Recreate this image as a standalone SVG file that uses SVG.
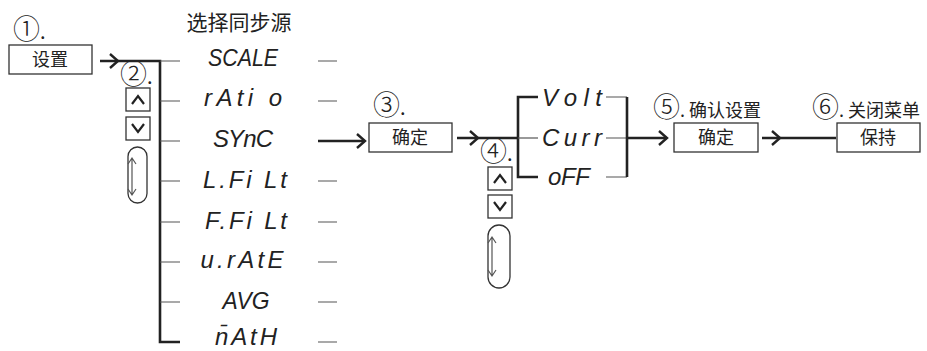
<svg xmlns="http://www.w3.org/2000/svg" width="927" height="351" viewBox="0 0 927 351">
<style>
.bg{fill:#fff}
.box{fill:#fff;stroke:#333;stroke-width:1.3}
.cn{font-family:"Noto Sans CJK SC","Noto Sans",sans-serif;fill:#222}
.num{font-family:"Noto Sans CJK SC","Noto Sans",sans-serif;font-weight:300;fill:#222}
.seg{font-family:"Liberation Sans",sans-serif;font-style:italic;font-size:24px;fill:#222;text-anchor:middle}
.thick{stroke:#222;stroke-width:2.6;fill:none}
.thin{stroke:#555;stroke-width:1.2;fill:none}
.head{stroke:#222;stroke-width:2.4;fill:none;stroke-linejoin:miter}
.key{stroke:#222;stroke-width:2.2;fill:none}
</style>
<rect class="bg" x="0" y="0" width="927" height="351"/>

<text class="cn" x="239" y="30" font-size="21" text-anchor="middle">选择同步源</text>

<g id="step1">
<text class="cn" x="13" y="39" font-size="20"><tspan class="num" font-size="27">①</tspan>.</text>
<rect class="box" x="9" y="45" width="83" height="29"/>
<text class="cn" x="50" y="66" font-size="18" text-anchor="middle">设置</text>
</g>

<g id="step2">
<text class="cn" x="120" y="84" font-size="20"><tspan class="num" font-size="27">②</tspan>.</text>
<rect class="box" x="126" y="88" width="24" height="23"/>
<path class="key" d="M132,104 L138,96 L144,104"/>
<rect class="box" x="126" y="117" width="24" height="23"/>
<path class="key" d="M132,124 L138,132 L144,124"/>
<rect class="box" x="128" y="147" width="19" height="56" rx="9.5"/>
<path class="thin" d="M132,158 L132,195 M128,164 L132,158 L136,164 M128,189 L132,195 L136,189"/>
</g>

<g id="menu">
<text class="seg" x="243" y="66" textLength="70" lengthAdjust="spacingAndGlyphs">SCALE</text>
<text class="seg" x="243" y="106" textLength="78" lengthAdjust="spacing">rAti o</text>
<text class="seg" x="243" y="147" textLength="60" lengthAdjust="spacing">SYnC</text>
<text class="seg" x="245" y="188" textLength="84" lengthAdjust="spacing">L.Fi Lt</text>
<text class="seg" x="246" y="229" textLength="82" lengthAdjust="spacing">F.Fi Lt</text>
<text class="seg" x="242" y="268" textLength="83" lengthAdjust="spacing">u.rAtE</text>
<text class="seg" x="246" y="309" textLength="47" lengthAdjust="spacingAndGlyphs">AVG</text>
<text class="seg" x="246" y="345" textLength="62" lengthAdjust="spacing">n̄AtH</text>
</g>

<g id="step3">
<text class="cn" x="373" y="115" font-size="20"><tspan class="num" font-size="27">③</tspan>.</text>
<rect class="box" x="369" y="123" width="83" height="29"/>
<text class="cn" x="410" y="144" font-size="18" text-anchor="middle">确定</text>
</g>

<g id="options">
<text class="seg" x="572" y="106" textLength="60" lengthAdjust="spacing">Volt</text>
<text class="seg" x="572" y="146" textLength="60" lengthAdjust="spacing">Curr</text>
<text class="seg" x="569" y="185" textLength="42" lengthAdjust="spacing">oFF</text>
</g>

<g id="step4">
<text class="cn" x="480" y="161" font-size="20"><tspan class="num" font-size="27">④</tspan>.</text>
<rect class="box" x="488" y="167" width="24" height="23"/>
<path class="key" d="M494,183 L500,175 L506,183"/>
<rect class="box" x="488" y="195" width="24" height="23"/>
<path class="key" d="M494,202 L500,210 L506,202"/>
<rect class="box" x="488" y="225" width="22" height="63" rx="11"/>
<path class="thin" d="M492,237 L492,276 M488,243 L492,237 L496,243 M488,270 L492,276 L496,270"/>
</g>

<g id="step5">
<text class="cn" x="653" y="117" font-size="18"><tspan class="num" font-size="27">⑤</tspan>. 确认设置</text>
<rect class="box" x="674" y="123" width="84" height="29"/>
<text class="cn" x="716" y="144" font-size="18" text-anchor="middle">确定</text>
</g>

<g id="step6">
<text class="cn" x="812" y="117" font-size="18"><tspan class="num" font-size="27">⑥</tspan>. 关闭菜单</text>
<rect class="box" x="837" y="123" width="83" height="29"/>
<text class="cn" x="878" y="144" font-size="18" text-anchor="middle">保持</text>
</g>

<g id="connectors">
<path class="thick" d="M100,61 L160,61 L160,342 L180,342"/>
<path class="head" d="M110,54 L118,61 L110,68"/>
<path class="thin" d="M160,61 H180 M160,101 H180 M160,141 H180 M160,181 H180 M160,222 H180 M160,262 H180 M160,302 H180"/>
<path class="thin" d="M318,61 H337 M318,101 H337 M318,181 H337 M318,222 H337 M318,262 H337 M318,302 H337 M318,342 H337"/>
<path class="thick" d="M318,141 L365,141"/>
<path class="head" d="M357,134 L365,141 L357,148"/>
<path class="thick" d="M457,138 L518,138"/>
<path class="head" d="M470,131 L478,138 L470,145"/>
<path class="thick" d="M538,97 L518,97 L518,177 L538,177"/>
<path class="thin" d="M518,138 L538,138"/>
<path class="thin" d="M606,97 L627,97 M606,138 L627,138 M606,177 L627,177"/>
<path class="thick" d="M627,97 L627,177"/>
<path class="thick" d="M627,138 L667,138"/>
<path class="head" d="M659,131 L667,138 L659,145"/>
<path class="thick" d="M762,138 L836,138"/>
<path class="head" d="M772,131 L780,138 L772,145"/>
</g>
</svg>
